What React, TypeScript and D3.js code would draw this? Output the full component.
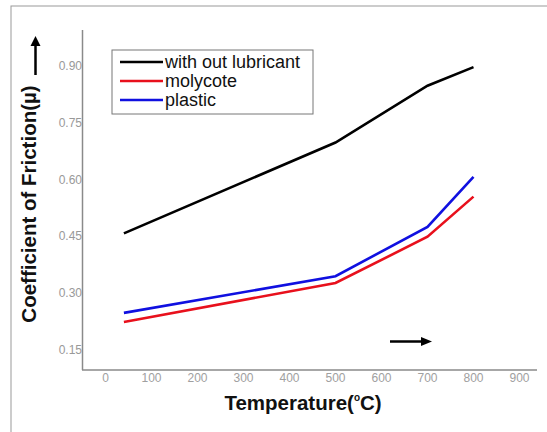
import React from "react";
import * as d3 from "d3";

const width = 547;
const height = 432;

// temperatures (°C) and friction values
const temps = [40, 500, 700, 800];
const withoutLubricant = [0.458, 0.698, 0.848, 0.897];
const molycote = [0.224, 0.327, 0.449, 0.555];
const plastic = [0.248, 0.345, 0.475, 0.607];

const xTicks = [0, 100, 200, 300, 400, 500, 600, 700, 800, 900];
const yTicks = [0.15, 0.3, 0.45, 0.6, 0.75, 0.9];

const seriesNames = ["with out lubricant", "molycote", "plastic"];
const seriesColors = ["#000000", "#e8101c", "#1010e0"];
const seriesValues = [withoutLubricant, molycote, plastic];

export default function App() {
  const xScale = d3.scaleLinear().domain([0, 900]).range([105.5, 519.5]);
  const yScale = d3.scaleLinear().domain([0.15, 0.9]).range([350, 66]);

  const line = d3
    .line<number>()
    .x((d, i) => xScale(temps[i]))
    .y(d => yScale(d));

  const axisColor = "#8a8a8a";
  const font = "Liberation Sans, Arial, sans-serif";

  return (
    <svg
      width={width}
      height={height}
      style={{ position: "absolute", left: 0, top: 0, background: "#fff" }}
    >
      <rect width={width} height={height} fill="#fff" />
      {/* outer frame */}
      <rect x={11} y={6} width={560} height={460} fill="none" stroke="#999" strokeWidth={1} />

      {/* axes */}
      <line x1={82.5} x2={82.5} y1={30} y2={370} stroke={axisColor} strokeWidth={1.5} />
      <line x1={82} x2={537} y1={370} y2={370} stroke={axisColor} strokeWidth={1.5} />

      {yTicks.map(t => (
        <text
          key={t}
          x={82}
          y={yScale(t) + 4}
          textAnchor="end"
          fontFamily={font}
          fontSize={12}
          fill="#999"
        >
          {t.toFixed(2)}
        </text>
      ))}
      {xTicks.map(t => (
        <text
          key={t}
          x={xScale(t)}
          y={382}
          textAnchor="middle"
          fontFamily={font}
          fontSize={12}
          fill="#a0a0a0"
        >
          {t}
        </text>
      ))}

      {/* series */}
      {seriesValues.map((vals, i) => (
        <path
          key={seriesNames[i]}
          d={line(vals) || ""}
          fill="none"
          stroke={seriesColors[i]}
          strokeWidth={2.6}
        />
      ))}

      {/* legend */}
      <rect x={112} y={50} width={201} height={64} fill="#fff" stroke="#777" strokeWidth={1} />
      {seriesNames.map((name, i) => (
        <g key={name} transform={`translate(0, ${62 + i * 19})`}>
          <line x1={120} x2={163} y1={0} y2={0} stroke={seriesColors[i]} strokeWidth={2.6} />
          <text x={165} y={5.5} fontFamily={font} fontSize={18} fill="#111">
            {name}
          </text>
        </g>
      ))}

      {/* direction arrows */}
      <line x1={35.5} x2={35.5} y1={75} y2={44} stroke="#000" strokeWidth={2.5} />
      <path d="M30.5,46 L35.5,36 L40.5,46 Z" fill="#000" />
      <line x1={390} x2={423} y1={341.5} y2={341.5} stroke="#000" strokeWidth={2.5} />
      <path d="M421,337 L432,341.5 L421,346 Z" fill="#000" />

      {/* axis titles */}
      <text
        transform="translate(36, 204) rotate(-90)"
        textAnchor="middle"
        fontFamily={font}
        fontSize={20.5}
        fontWeight="bold"
        fill="#111"
      >
        Coefficient of Friction(µ)
      </text>
      <text
        x={303}
        y={410}
        textAnchor="middle"
        fontFamily={font}
        fontSize={20.5}
        fontWeight="bold"
        fill="#111"
      >
        Temperature(<tspan fontSize={10} dy={-9}>o</tspan>
        <tspan dy={9}>C)</tspan>
      </text>
    </svg>
  );
}
